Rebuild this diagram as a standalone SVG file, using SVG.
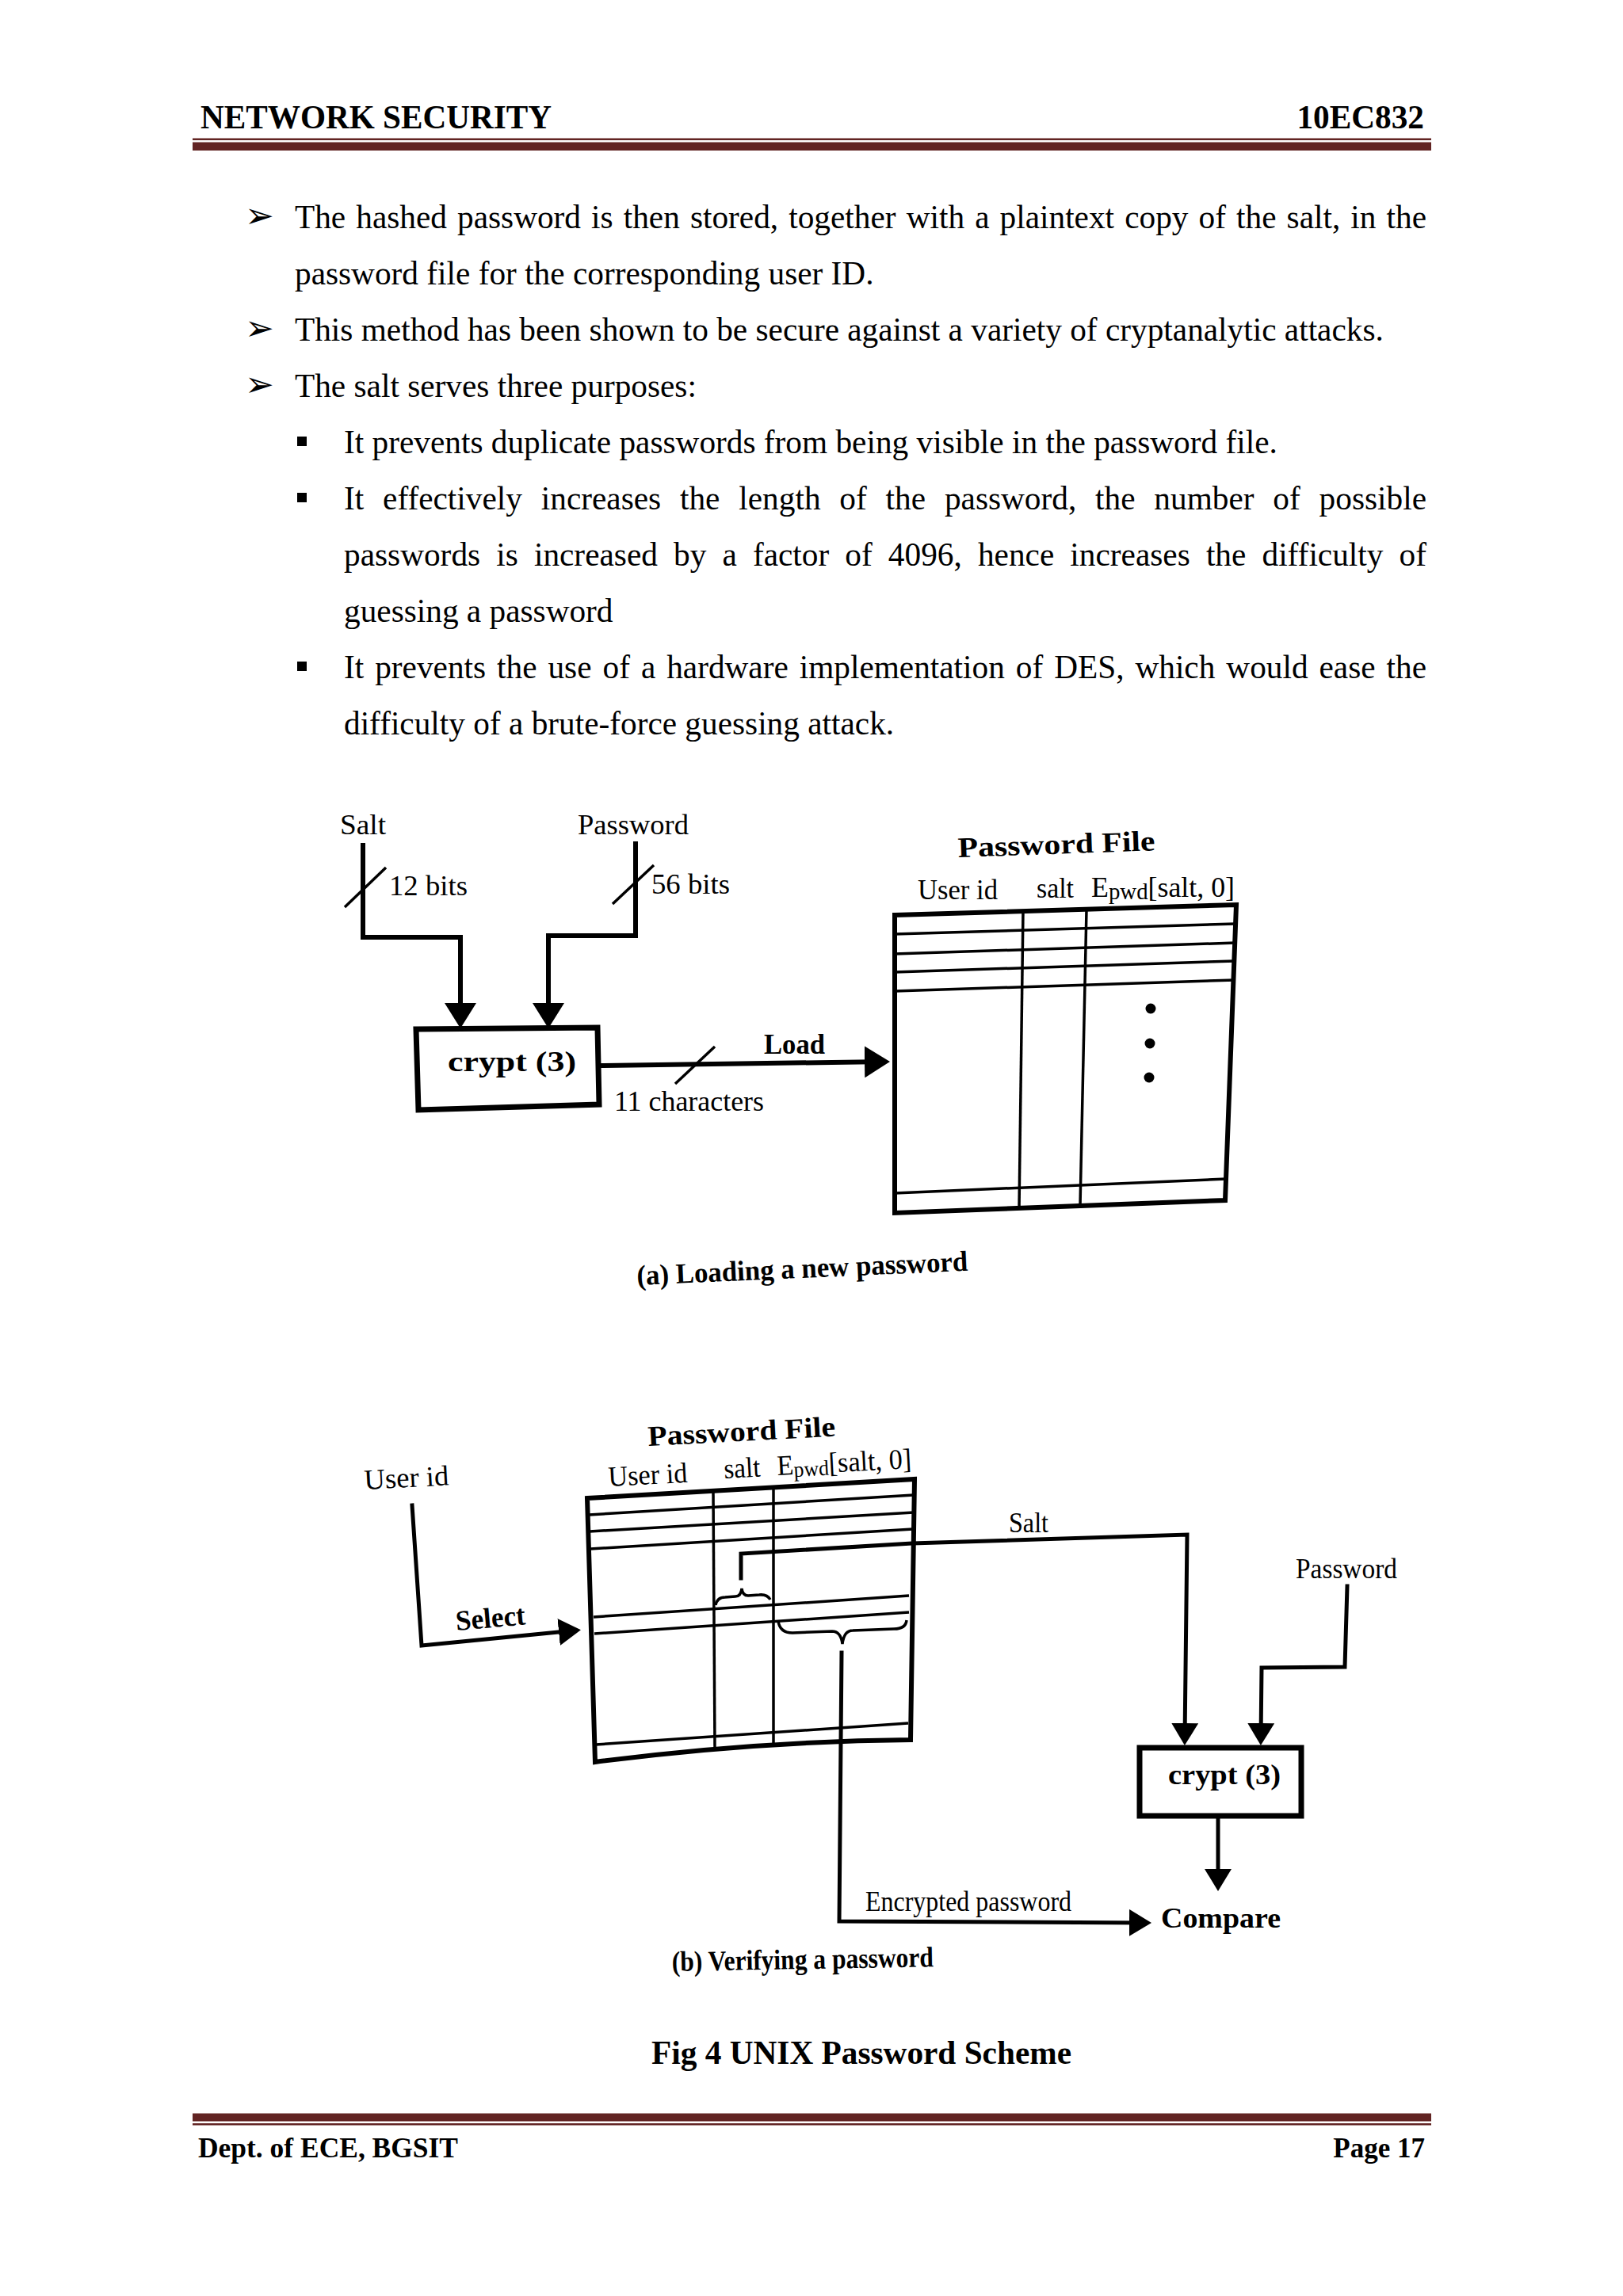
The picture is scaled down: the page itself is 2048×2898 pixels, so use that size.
<svg xmlns="http://www.w3.org/2000/svg" width="2048" height="2898" viewBox="0 0 2048 2898">
<defs>
<style>
.body{font-family:"Liberation Serif","Times New Roman",serif;font-size:41.3px;fill:#000}
.hdr{font-family:"Liberation Serif","Times New Roman",serif;font-size:41.3px;font-weight:bold;fill:#000}
.ftr{font-family:"Liberation Serif","Times New Roman",serif;font-size:35px;font-weight:bold;fill:#000}
.lbl{font-family:"Liberation Serif","Times New Roman",serif;font-size:36px;fill:#000}
.lblb{font-family:"Liberation Serif","Times New Roman",serif;font-size:36px;font-weight:bold;fill:#000}
.blt{font-family:"DejaVu Sans",sans-serif;font-size:44px;fill:#000}
.rule{fill:#622423}
.ln{fill:none;stroke:#000;stroke-width:6;stroke-linejoin:miter;stroke-linecap:square}
.lnb{fill:none;stroke:#000;stroke-width:5;stroke-linejoin:miter;stroke-linecap:square}
.thin{fill:none;stroke:#000;stroke-width:3.5}
.box{fill:none;stroke:#000;stroke-width:7;stroke-linejoin:miter}
.tbl{fill:none;stroke:#000;stroke-width:6;stroke-linejoin:miter}
</style>
<marker id="arrA" markerUnits="userSpaceOnUse" viewBox="0 0 32 40" refX="24" refY="20" markerWidth="32" markerHeight="40" orient="auto">
<path d="M0,0 L32,20 L0,40 Z" fill="#000"/>
</marker>
<marker id="arrB" markerUnits="userSpaceOnUse" viewBox="0 0 28 34" refX="20" refY="17" markerWidth="28" markerHeight="34" orient="auto">
<path d="M0,0 L28,17 L0,34 Z" fill="#000"/>
</marker>
</defs>
<rect x="0" y="0" width="2048" height="2898" fill="#fff"/>

<g id="header">
<text class="hdr" x="253" y="162" textLength="443" lengthAdjust="spacingAndGlyphs">NETWORK SECURITY</text>
<text class="hdr" x="1797" y="162" text-anchor="end">10EC832</text>
<rect class="rule" x="243" y="174.5" width="1563" height="2.5"/>
<rect class="rule" x="243" y="179.5" width="1563" height="10.5"/>
</g>

<g id="body-text">
<text class="blt" x="309" y="287">➢</text>
<text class="body" x="372" y="288" word-spacing="2.8" textLength="1428" lengthAdjust="spacing">The hashed password is then stored, together with a plaintext copy of the salt, in the</text>
<text class="body" x="372" y="359">password file for the corresponding user ID.</text>
<text class="blt" x="309" y="429">➢</text>
<text class="body" x="372" y="430">This method has been shown to be secure against a variety of cryptanalytic attacks.</text>
<text class="blt" x="309" y="500">➢</text>
<text class="body" x="372" y="501">The salt serves three purposes:</text>
<rect x="375" y="551" width="12" height="12" fill="#000"/>
<text class="body" x="434" y="572">It prevents duplicate passwords from being visible in the password file.</text>
<rect x="375" y="622" width="12" height="12" fill="#000"/>
<text class="body" x="434" y="643" word-spacing="13.5" textLength="1366" lengthAdjust="spacing">It effectively increases the length of the password, the number of possible</text>
<text class="body" x="434" y="714" word-spacing="9.8" textLength="1366" lengthAdjust="spacing">passwords is increased by a factor of 4096, hence increases the difficulty of</text>
<text class="body" x="434" y="785">guessing a password</text>
<rect x="375" y="835" width="12" height="12" fill="#000"/>
<text class="body" x="434" y="856" word-spacing="3.7" textLength="1366" lengthAdjust="spacing">It prevents the use of a hardware implementation of DES, which would ease the</text>
<text class="body" x="434" y="927">difficulty of a brute-force guessing attack.</text>
</g>

<!-- Diagram (a) -->
<g id="a-salt-input">
<text class="lbl" x="429" y="1053" textLength="58" lengthAdjust="spacingAndGlyphs">Salt</text>
<text class="lbl" x="491" y="1130" textLength="99" lengthAdjust="spacingAndGlyphs">12 bits</text>
</g>
<g id="a-password-input">
<text class="lbl" x="729" y="1053" textLength="140" lengthAdjust="spacingAndGlyphs">Password</text>
<text class="lbl" x="822" y="1128" textLength="99" lengthAdjust="spacingAndGlyphs">56 bits</text>
</g>
<g id="a-crypt">
<polygon class="box" points="525,1299 754,1297 756,1394 528,1401"/>
<text class="lblb" x="565" y="1352" font-size="42" textLength="162" lengthAdjust="spacingAndGlyphs">crypt (3)</text>
</g>
<g id="a-password-file">
<text class="lblb" x="1209" y="1082" font-size="41" textLength="249" lengthAdjust="spacingAndGlyphs" transform="rotate(-2 1209 1082)">Password File</text>
<text class="lbl" x="1158" y="1135" textLength="101" lengthAdjust="spacingAndGlyphs">User id</text>
<text class="lbl" x="1308" y="1133" textLength="47" lengthAdjust="spacingAndGlyphs">salt</text>
<text class="lbl" x="1377" y="1132" textLength="181" lengthAdjust="spacingAndGlyphs">E<tspan font-size="29" dy="3">pwd</tspan><tspan dy="-3">[salt, 0]</tspan></text>
<polygon class="tbl" points="1129,1155 1560,1142 1546,1515 1129,1531"/>
<line class="thin" x1="1129" y1="1179" x2="1559" y2="1166"/>
<line class="thin" x1="1129" y1="1204" x2="1559" y2="1190"/>
<line class="thin" x1="1129" y1="1227" x2="1558" y2="1213"/>
<line class="thin" x1="1129" y1="1251" x2="1558" y2="1237"/>
<line class="thin" x1="1129" y1="1506" x2="1547" y2="1488"/>
<line class="thin" x1="1291" y1="1150" x2="1286" y2="1525"/>
<line class="thin" x1="1371" y1="1148" x2="1363" y2="1522"/>
<circle cx="1452" cy="1273" r="6.5" fill="#000"/>
<circle cx="1451" cy="1317" r="6.5" fill="#000"/>
<circle cx="1450" cy="1360" r="6.5" fill="#000"/>
</g>
<g id="a-load-label">
<text class="lblb" x="964" y="1330" textLength="77" lengthAdjust="spacingAndGlyphs">Load</text>
<text class="lbl" x="775" y="1402" textLength="189" lengthAdjust="spacingAndGlyphs">11 characters</text>
</g>
<g id="a-connectors">
<polyline class="ln" points="458,1067 458,1183 581,1183 581,1290" marker-end="url(#arrA)"/>
<polyline class="ln" points="802,1065 802,1181 692,1181 692,1290" marker-end="url(#arrA)"/>
<line class="ln" x1="757" y1="1345" x2="1115" y2="1340" marker-end="url(#arrA)"/>
<line class="thin" x1="435" y1="1145" x2="487" y2="1095"/>
<line class="thin" x1="773" y1="1141" x2="825" y2="1092"/>
<line class="thin" x1="852" y1="1368" x2="902" y2="1321"/>
</g>
<g id="a-caption">
<text class="lblb" x="804" y="1622" font-size="34" textLength="418" lengthAdjust="spacingAndGlyphs" transform="rotate(-2.5 804 1622)">(a) Loading a new password</text>
</g>

<!-- Diagram (b) -->
<g id="b-userid-input">
<text class="lbl" x="460" y="1880" font-size="35" textLength="107" lengthAdjust="spacingAndGlyphs" transform="rotate(-3 460 1880)">User id</text>
</g>
<g id="b-password-file">
<text class="lblb" x="818" y="1825" font-size="39" textLength="237" lengthAdjust="spacingAndGlyphs" transform="rotate(-3 818 1825)">Password File</text>
<text class="lbl" x="768" y="1876" font-size="34" textLength="100" lengthAdjust="spacingAndGlyphs" transform="rotate(-3 768 1876)">User id</text>
<text class="lbl" x="914" y="1866" font-size="33" textLength="46" lengthAdjust="spacingAndGlyphs" transform="rotate(-3 914 1866)">salt</text>
<text class="lbl" x="981" y="1862" font-size="33" textLength="170" lengthAdjust="spacingAndGlyphs" transform="rotate(-3 981 1862)">E<tspan font-size="27" dy="3">pwd</tspan><tspan dy="-3">[salt, 0]</tspan></text>
<path class="tbl" d="M741,1891 L1154,1867 L1149,2196 Q950,2198 751,2224 Z"/>
<line class="thin" x1="743" y1="1912" x2="1153" y2="1887"/>
<line class="thin" x1="744" y1="1933" x2="1153" y2="1909"/>
<line class="thin" x1="745" y1="1955" x2="1152" y2="1930"/>
<line class="thin" x1="749" y1="2041" x2="1147" y2="2014"/>
<line class="thin" x1="750" y1="2062" x2="1147" y2="2035"/>
<line class="thin" x1="752" y1="2202" x2="1146" y2="2175"/>
<line class="thin" x1="900" y1="1882" x2="902" y2="2207"/>
<line class="thin" x1="976" y1="1877" x2="976" y2="2203"/>
<path class="thin" d="M903,2026 Q905,2016 915,2016 L928,2015 Q935,2015 936,2005 Q937,2014 944,2014 L958,2013 Q968,2012 972,2019"/>
<path class="thin" d="M982,2046 Q984,2061 1000,2061 L1050,2059 Q1061,2059 1063,2075 Q1065,2058 1076,2058 L1128,2056 Q1143,2056 1144,2045"/>
</g>
<g id="b-select-label">
<text class="lblb" x="576" y="2058" font-size="35" textLength="88" lengthAdjust="spacingAndGlyphs" transform="rotate(-5 576 2058)">Select</text>
</g>
<g id="b-salt-label">
<text class="lbl" x="1273" y="1934" font-size="33" textLength="50" lengthAdjust="spacingAndGlyphs">Salt</text>
</g>
<g id="b-password-input">
<text class="lbl" x="1635" y="1992" font-size="33" textLength="128" lengthAdjust="spacingAndGlyphs">Password</text>
</g>
<g id="b-crypt">
<rect class="box" x="1438" y="2206" width="204" height="86" stroke-width="6"/>
<text class="lblb" x="1474" y="2252" font-size="39" textLength="142" lengthAdjust="spacingAndGlyphs">crypt (3)</text>
</g>
<g id="b-compare">
<text class="lblb" x="1465" y="2433" font-size="38" textLength="151" lengthAdjust="spacingAndGlyphs">Compare</text>
</g>
<g id="b-encrypted-label">
<text class="lbl" x="1092" y="2412" font-size="32" textLength="260" lengthAdjust="spacingAndGlyphs">Encrypted password</text>
</g>
<g id="b-connectors">
<polyline class="lnb" points="520,1900 532,2077 725,2058" marker-end="url(#arrB)"/>
<polyline class="lnb" points="935,1992 935,1961 1151,1948 1498,1937 1495,2195" marker-end="url(#arrB)"/>
<polyline class="lnb" points="1700,2002 1697,2104 1592,2105 1591,2195" marker-end="url(#arrB)"/>
<line class="lnb" x1="1537" y1="2295" x2="1537" y2="2379" marker-end="url(#arrB)"/>
<polyline class="lnb" points="1062,2086 1059,2425 1445,2427" marker-end="url(#arrB)"/>
</g>
<g id="b-caption">
<text class="lblb" x="848" y="2488" font-size="31" textLength="330" lengthAdjust="spacingAndGlyphs" transform="rotate(-1 848 2488)">(b) Verifying a password</text>
</g>

<g id="figure-caption">
<text class="hdr" x="822" y="2605" textLength="530" lengthAdjust="spacingAndGlyphs">Fig 4 UNIX Password Scheme</text>
</g>

<g id="footer">
<rect class="rule" x="243" y="2667.5" width="1563" height="10"/>
<rect class="rule" x="243" y="2680" width="1563" height="2.5"/>
<text class="ftr" x="250" y="2723" textLength="328" lengthAdjust="spacingAndGlyphs">Dept. of ECE, BGSIT</text>
<text class="ftr" x="1798" y="2723" text-anchor="end">Page 17</text>
</g>
</svg>
